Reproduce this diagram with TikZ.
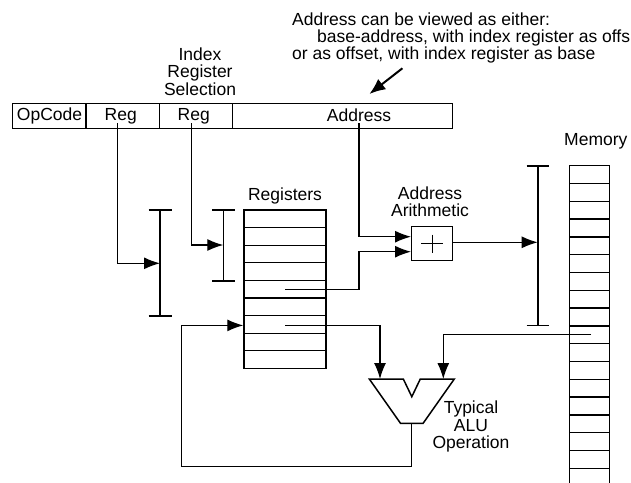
\documentclass[tikz,border=0pt]{standalone}
\usepackage{fontspec}
\setmainfont{Liberation Sans}
\usetikzlibrary{arrows.meta,calc}
\begin{document}
\begin{tikzpicture}[x=1pt,y=-1pt,
  lbl/.style={inner sep=0pt, font=\fontsize{17.5}{17.6}\selectfont, align=center},
  field/.style={draw, line width=1.3pt, inner sep=0pt, minimum height=25pt},
  wire/.style={line width=1.2pt},
  arr/.style={wire, -{Latex[length=16pt,width=12pt]}},
  bigarr/.style={line width=2pt, -{Latex[length=16pt,width=13pt]}},
  brk/.style={line width=1.6pt},
  cellbox/.style={draw, line width=1.4pt, inner sep=0pt}]
\useasboundingbox (0,0) rectangle (631,482);

% top note
\node[lbl, anchor=base west] (n1) at (292,25.5) {Address can be viewed as either:};
\node[lbl, anchor=base west] (n2) at (317,42) {base-address, with index register as offs};
\node[lbl, anchor=base west] (n3) at (292,59.5) {or as offset, with index register as base};
\coordinate (at) at (402.4,68.3);
\coordinate (ah) at (369.4,94);
\draw[bigarr] (at) -- (ah);

\node[lbl] (irs) at (200,71.4) {Index\\Register\\Selection};

% instruction
\node[field, minimum width=73.3pt] (op) at (49.35,115.8) {};
\node[field, minimum width=73.3pt] (r1) at (122.65,115.8) {};
\node[field, minimum width=73.4pt] (r2) at (196,115.8) {};
\node[field, minimum width=220pt] (ad) at (342.7,115.8) {};
\node[lbl] (opt) at (49.5,116) {OpCode};
\node[lbl] (r1t) at (120.8,116) {Reg};
\node[lbl] (r2t) at (193.7,116) {Reg};
\node[lbl] (adt) at (359,115) {Address};
\coordinate (r1s) at (117.7,123);
\coordinate (r2s) at (191.7,123);
\coordinate (as) at (359,123);

% bracket 1
\coordinate (b1t) at (160,210);
\coordinate (b1b) at (160,316);
\draw[brk] (b1t) -- (b1b);
\draw[brk] ($(b1t)+(-11.5,0)$) -- ($(b1t)+(11.5,0)$);
\draw[brk] ($(b1b)+(-11.5,0)$) -- ($(b1b)+(11.5,0)$);
% bracket 2
\coordinate (b2t) at (223.3,210);
\coordinate (b2b) at (223.3,281);
\draw[brk] (b2t) -- (b2b);
\draw[brk] ($(b2t)+(-11.3,0)$) -- ($(b2t)+(11.3,0)$);
\draw[brk] ($(b2b)+(-11.3,0)$) -- ($(b2b)+(11.3,0)$);

\draw[arr] (r1s) |- (b1t |- 0,263.3);
\draw[arr] (r2s) |- (b2t |- 0,245);

% registers
\node[lbl] (regl) at (285,195.7) {Registers};
\node[cellbox, minimum width=82pt, minimum height=158.4pt] (regs) at (285,289.2) {};
\foreach \k in {1,...,8} \draw[line width=1.3pt] (244,210+\k*17.6) -- (326,210+\k*17.6);
\coordinate (ra) at (285,289.8);
\coordinate (rb) at (285,325.4);

% adder
\node[lbl] (aal) at (430,201.7) {Address\\Arithmetic};
\node[cellbox, minimum width=40.6pt, minimum height=34pt] (add) at (432,243.7) {};
\draw[line width=1pt] ($(add.center)+(-11,0)$) -- ($(add.center)+(11,0)$);
\draw[line width=1pt] ($(add.center)+(0,-9)$) -- ($(add.center)+(0,9)$);
\draw[arr] (as) |- ([yshift=7pt]add.west);
\draw[arr] (ra) -- ++(74,0) |- ([yshift=-8pt]add.west);

% memory bracket
\coordinate (mbt) at (537.7,165.7);
\coordinate (mbb) at (537.7,325.3);
\draw[brk] (mbt) -- (mbb);
\draw[brk] ($(mbt)+(-11,0)$) -- ($(mbt)+(11,0)$);
\draw[brk] ($(mbb)+(-11,0)$) -- ($(mbb)+(11,0)$);
\draw[arr] ([yshift=1.4pt]add.east) -- ([yshift=1.4pt]add.east -| mbt);

% memory
\node[lbl] (meml) at (595.8,141.7) {Memory};
\draw[line width=1.4pt] (569.3,490) |- (609.3,165.7) -- (609.3,490);
\foreach \k in {1,...,17} \draw[line width=1.3pt] (569.3,165.7+\k*17.8) -- (609.3,165.7+\k*17.8);
\coordinate (mo) at (591,334.8);

% ALU
\coordinate (aluL) at (380,379);
\coordinate (aluR) at (443.3,379);
\coordinate (aluO) at (411.8,423.3);
\draw[line width=1.5pt, line join=miter] (369.3,379) -- (403.3,379) -- (411.8,396.7) -- (420.3,379) -- (454.3,379) -- (423.1,423.3) -- (400.5,423.3) -- cycle;
\node[lbl] (alul) at (471,426.7) {Typical\\ALU\\Operation};
\draw[arr] (rb) -| (aluL);
\draw[arr] (mo) -| (aluR);
\coordinate (fbc) at (181.7,466.7);
\draw[arr] (aluO) |- (fbc) |- (regs.west |- rb);
\end{tikzpicture}
\end{document}
